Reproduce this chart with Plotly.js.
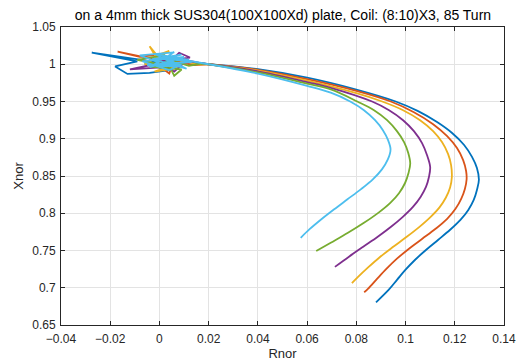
<!DOCTYPE html>
<html>
<head>
<meta charset="utf-8">
<script src="https://cdn.plot.ly/plotly-3.0.1.min.js"></script>
<style>html,body{margin:0;padding:0;background:#fff;}#chart{width:523px;height:361px;}</style>
</head>
<body>
<div id="chart"></div>
<script>
// ---- Data ----
const titleText = 'on a 4mm thick SUS304(100X100Xd) plate, Coil: (8:10)X3, 85 Turn';
const xTitle = 'Rnor';
const yTitle = 'Xnor';
const seriesColors = ['#0072BD', '#D95319', '#EDB120', '#7E2F8E', '#77AC30', '#4DBEEE'];

// noisy start region (near Rnor=0, Xnor=1)
const blueNoiseX = [-0.001, -0.0275, -0.009, -0.018, -0.013, -0.004, 0.004, -0.006, 0.008, 0.002, 0.012, 0.016, 0.02];
const blueNoiseY = [1.003, 1.0155, 1.004, 0.997, 0.987, 0.9885, 0.992, 1.001, 1.006, 0.996, 1.003, 1.001, 1.0];
const redNoiseX = [0.002, -0.017, -0.008, -0.003, 0.006, 0.004, 0.001, 0.010, 0.003, 0.014, 0.02];
const redNoiseY = [1.004, 1.017, 1.010, 1.012, 1.008, 0.9875, 0.995, 1.002, 1.006, 0.999, 1.0];
const yellowNoiseX = [0.0, -0.004, -0.001, 0.004, -0.006, 0.008, -0.002, 0.010, 0.006, 0.015, 0.02];
const yellowNoiseY = [1.002, 1.024, 1.012, 1.018, 1.0, 0.995, 0.990, 1.004, 1.010, 1.0, 1.0];
const purpleNoiseX = [-0.002, -0.012, 0.002, 0.008, 0.0124, 0.0, 0.006, 0.011, 0.016, 0.02];
const purpleNoiseY = [1.0, 0.993, 0.996, 1.0155, 1.009, 1.004, 0.990, 1.005, 1.002, 1.0];
const greenNoiseX = [0.0, -0.009, 0.002, 0.006, 0.009, -0.004, 0.005, 0.012, 0.017, 0.02];
const greenNoiseY = [1.0, 1.006, 1.012, 0.9845, 0.993, 0.997, 1.005, 0.998, 1.001, 1.0];
const cyanNoiseX = [0.0, -0.008, 0.006, -0.004, 0.010, -0.007, 0.004, 0.012, -0.002, 0.008, -0.005, 0.013, 0.002, 0.009, -0.003, 0.011, 0.001, 0.014, 0.018, 0.02];
const cyanNoiseY = [1.002, 1.012, 1.016, 0.996, 1.010, 1.004, 0.992, 1.006, 1.014, 0.997, 0.999, 1.003, 1.008, 1.013, 1.007, 0.994, 1.011, 1.004, 1.001, 1.0];

// smooth sweep
const blueX = [0.02, 0.04, 0.06, 0.08, 0.096, 0.1051, 0.1128, 0.1189, 0.1238, 0.1270, 0.1290, 0.1298, 0.1290, 0.1277, 0.1255, 0.1223, 0.1181, 0.1133, 0.1084, 0.1039, 0.1000, 0.0966, 0.0932, 0.0880];
const blueY = [1.0, 0.9933, 0.982, 0.966, 0.950, 0.9371, 0.9224, 0.9077, 0.8916, 0.8756, 0.8607, 0.8451, 0.8313, 0.8179, 0.8045, 0.7911, 0.7778, 0.7644, 0.7510, 0.7376, 0.7242, 0.7109, 0.6975, 0.6805];
const redX = [0.02, 0.04, 0.06, 0.08, 0.094, 0.1034, 0.1112, 0.1169, 0.1209, 0.1234, 0.1246, 0.1248, 0.1241, 0.1226, 0.1203, 0.1169, 0.1122, 0.1068, 0.1014, 0.0965, 0.0923, 0.0885, 0.0848, 0.0832];
const redY = [1.0, 0.9925, 0.980, 0.9643, 0.950, 0.9356, 0.9196, 0.9035, 0.8875, 0.8714, 0.8567, 0.8453, 0.8326, 0.8192, 0.8059, 0.7925, 0.7791, 0.7657, 0.7524, 0.7390, 0.7256, 0.7122, 0.6988, 0.6939];
const yellowX = [0.02, 0.04, 0.06, 0.08, 0.0905, 0.0990, 0.1059, 0.1112, 0.1148, 0.1173, 0.1185, 0.1188, 0.1181, 0.1164, 0.1138, 0.1100, 0.1054, 0.1002, 0.0947, 0.0895, 0.0849, 0.0806, 0.0782];
const yellowY = [1.0, 0.9915, 0.978, 0.9612, 0.950, 0.9383, 0.9249, 0.9102, 0.8955, 0.8794, 0.8647, 0.848, 0.8346, 0.8212, 0.8079, 0.7945, 0.7811, 0.7677, 0.7543, 0.7410, 0.7276, 0.7142, 0.7061];
const purpleX = [0.02, 0.04, 0.06, 0.0696, 0.0864, 0.0933, 0.0990, 0.1034, 0.1067, 0.1087, 0.1100, 0.1095, 0.1083, 0.1061, 0.1030, 0.0989, 0.0941, 0.0887, 0.0828, 0.0770, 0.0713];
const purpleY = [1.0, 0.9905, 0.976, 0.9684, 0.950, 0.9383, 0.9249, 0.9102, 0.8941, 0.8781, 0.862, 0.8487, 0.8353, 0.8219, 0.8085, 0.7952, 0.7818, 0.7684, 0.755, 0.7417, 0.728];
const greenX = [0.02, 0.04, 0.06, 0.0696, 0.0804, 0.0872, 0.0925, 0.0965, 0.0994, 0.1011, 0.1019, 0.1012, 0.0998, 0.0974, 0.0938, 0.0889, 0.0831, 0.0766, 0.0696, 0.0637];
const greenY = [1.0, 0.989, 0.974, 0.9662, 0.950, 0.9383, 0.9249, 0.9102, 0.8955, 0.8808, 0.867, 0.854, 0.8406, 0.8273, 0.8139, 0.8005, 0.7871, 0.7737, 0.7604, 0.7493];
const cyanX = [0.02, 0.04, 0.06, 0.0696, 0.0775, 0.0831, 0.0876, 0.0908, 0.0929, 0.0939, 0.0928, 0.0904, 0.0867, 0.0818, 0.0764, 0.0710, 0.0658, 0.0610, 0.0574];
const cyanY = [1.0, 0.9875, 0.971, 0.9618, 0.950, 0.9383, 0.9249, 0.9115, 0.8981, 0.8857, 0.8722, 0.8589, 0.8455, 0.8321, 0.8187, 0.8054, 0.792, 0.7786, 0.767];

const xRange = [-0.04, 0.14];
const yRange = [0.65, 1.05];

// ---- Build traces ----
const noiseSets = [[blueNoiseX, blueNoiseY], [redNoiseX, redNoiseY], [yellowNoiseX, yellowNoiseY],
                   [purpleNoiseX, purpleNoiseY], [greenNoiseX, greenNoiseY], [cyanNoiseX, cyanNoiseY]];
const smoothSets = [[blueX, blueY], [redX, redY], [yellowX, yellowY],
                    [purpleX, purpleY], [greenX, greenY], [cyanX, cyanY]];
const traces = [];
for (let i = 0; i < 6; i++) {
  traces.push({x: noiseSets[i][0], y: noiseSets[i][1], type: 'scatter', mode: 'lines',
    line: {color: seriesColors[i], width: 1.8}, showlegend: false, hoverinfo: 'skip'});
  traces.push({x: smoothSets[i][0], y: smoothSets[i][1], type: 'scatter', mode: 'lines',
    line: {color: seriesColors[i], width: 1.8, shape: 'spline', smoothing: 1}, showlegend: false});
}

const fontFam = 'Liberation Sans, Arial, sans-serif';
const axisCommon = {
  showgrid: true, gridcolor: '#e3e3e3', gridwidth: 1,
  showline: true, linecolor: '#262626', linewidth: 1, mirror: 'ticks',
  ticks: 'inside', ticklen: 4, tickcolor: '#262626', tickwidth: 1,
  zeroline: false, tickfont: {family: fontFam, size: 12, color: '#262626'}
};

const layout = {
  width: 523, height: 361,
  margin: {l: 61, r: 19, t: 27, b: 35.5, pad: 0},
  paper_bgcolor: '#ffffff', plot_bgcolor: '#ffffff',
  title: {text: titleText, x: 0.541, xanchor: 'center', y: 0.958, yanchor: 'middle',
          font: {family: fontFam, size: 14, color: '#000000'}},
  xaxis: Object.assign({}, axisCommon, {range: xRange, dtick: 0.02, tick0: 0, ticklabelstandoff: 3,
    title: {text: xTitle, standoff: 3, font: {family: fontFam, size: 13, color: '#262626'}}}),
  yaxis: Object.assign({}, axisCommon, {range: yRange, dtick: 0.05, tick0: 0, ticklabelstandoff: 2,
    title: {text: yTitle, standoff: 5, font: {family: fontFam, size: 13, color: '#262626'}}}),
  showlegend: false
};

Plotly.newPlot('chart', traces, layout, {displayModeBar: false, staticPlot: true});
</script>
</body>
</html>
